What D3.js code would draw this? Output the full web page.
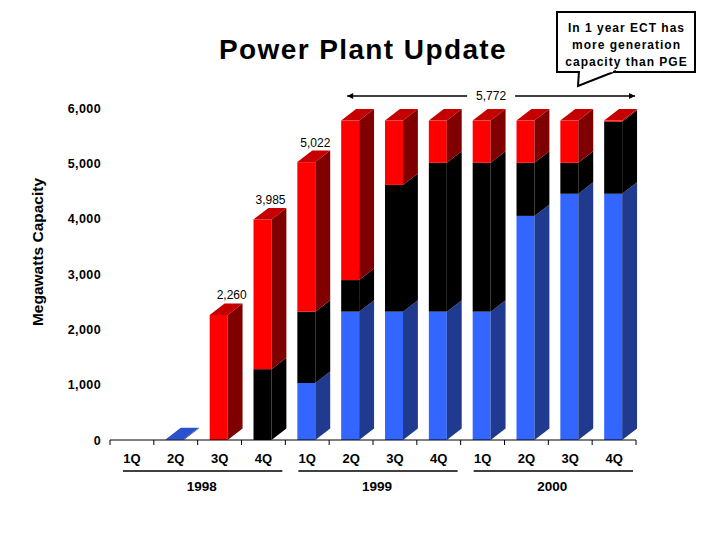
<!DOCTYPE html>
<html><head><meta charset="utf-8">
<script src="https://cdn.jsdelivr.net/npm/d3@7"></script>
<style>html,body{margin:0;padding:0;background:#fff;}svg{display:block;font-family:"Liberation Sans",Arial,sans-serif;}</style>
</head><body>
<svg id="chart" width="720" height="540"></svg>
<script>
// ---- data ----
const quarters = ["1Q","2Q","3Q","4Q","1Q","2Q","3Q","4Q","1Q","2Q","3Q","4Q"];
const years = ["1998","1999","2000"];
const seriesNames = ["Blue","Black","Red"];
const blueMW  = [0, 15, 0, 0, 1030, 2320, 2320, 2320, 2320, 4050, 4450, 4450];
const blackMW = [0, 0, 0, 1280, 1290, 570, 2290, 2690, 2690, 960, 560, 1300];
const redMW   = [0, 0, 2260, 2705, 2702, 2882, 1162, 762, 762, 762, 762, 22];
const yTicks = [0, 1000, 2000, 3000, 4000, 5000, 6000];
const totalLabels = [{i:2, v:2260}, {i:3, v:3985}, {i:4, v:5022}];
const spanLabel = {from:5, to:11, v:5772};
const calloutLines = ["In 1 year ECT has", "more generation", "capacity than PGE"];

const svg = d3.select("#chart");
const fmt = d3.format(",");

const x = d3.scaleBand().domain(d3.range(quarters.length)).range([110, 636]).padding(0);
const y = d3.scaleLinear().domain([0, 6000]).range([440, 108]);
const step = x.step();
const off = step * 0.274, bw = step * 0.41, dx = step * 0.34, dy = 11.5;

const colors = {
  Blue:  {front:"#3366ff", side:"#1f3a8f", top:"#2a52cc"},
  Black: {front:"#000000", side:"#000000", top:"#111111"},
  Red:   {front:"#ff0000", side:"#800000", top:"#c40000"}
};

// title
svg.append("text").attr("x", 363).attr("y", 59).attr("text-anchor","middle")
  .attr("font-size", 28).attr("font-weight","bold").attr("letter-spacing", 1.4).text("Power Plant Update");

// y axis title
svg.append("text").attr("transform","translate(43,252) rotate(-90)")
  .attr("text-anchor","middle").attr("font-size", 15.5).attr("font-weight","bold").text("Megawatts Capacity");

// y axis (labels only)
const yAx = svg.append("g").attr("transform","translate(110,0)")
  .call(d3.axisLeft(y).tickValues(yTicks).tickSize(0).tickPadding(9).tickFormat(fmt));
yAx.select(".domain").remove();
yAx.selectAll("text").attr("font-size", 12.5).attr("font-weight","bold").attr("letter-spacing", 0.4)
  .attr("font-family",'"Liberation Sans",Arial,sans-serif').attr("fill","#000");

// bars
const stacks = d3.range(quarters.length).map(i => {
  const vals = [blueMW[i], blackMW[i], redMW[i]];
  let base = 0;
  return vals.map((v, k) => { const s = {i, name: seriesNames[k], y0: base, y1: base + v}; base += v; return s; })
             .filter(s => s.y1 > s.y0);
});
const barG = svg.append("g");
stacks.forEach(segs => {
  segs.forEach((s, k) => {
    const x0 = x(s.i) + off, x1 = x0 + bw;
    const yt = y(s.y1), yb = y(s.y0);
    const c = colors[s.name];
    barG.append("rect").attr("x", x0).attr("y", yt).attr("width", bw).attr("height", Math.max(0, yb - yt)).attr("fill", c.front);
    barG.append("path").attr("d", `M${x1},${yt}L${x1+dx},${yt-dy}L${x1+dx},${yb-dy}L${x1},${yb}Z`).attr("fill", c.side);
    if (k === segs.length - 1) {
      barG.append("path").attr("d", `M${x0},${yt}L${x0+dx},${yt-dy}L${x1+dx},${yt-dy}L${x1},${yt}Z`).attr("fill", c.top);
    }
  });
});

// x axis
const axY = 440;
svg.append("line").attr("x1", x.range()[0]).attr("x2", x.range()[1]).attr("y1", axY).attr("y2", axY)
  .attr("stroke","#000").attr("stroke-width",1);
svg.append("g").selectAll("line").data(d3.range(quarters.length + 1)).join("line")
  .attr("x1", d => x.range()[0] + d * step).attr("x2", d => x.range()[0] + d * step)
  .attr("y1", axY).attr("y2", axY + 5).attr("stroke","#000");
const xAx = svg.append("g").attr("transform",`translate(0,${axY})`)
  .call(d3.axisBottom(x).tickSize(0).tickPadding(14).tickFormat(i => quarters[i]));
xAx.select(".domain").remove();
xAx.selectAll("text").attr("font-size", 13).attr("font-weight","bold")
  .attr("font-family",'"Liberation Sans",Arial,sans-serif').attr("fill","#000");

// year groups
years.forEach((yr, g) => {
  const a = x(g * 4), b = x(g * 4 + 3) + step;
  svg.append("line").attr("x1", a + 13).attr("x2", b - 3).attr("y1", 471).attr("y2", 471)
    .attr("stroke","#000").attr("stroke-width",1.3);
  svg.append("text").attr("x", (a + b) / 2 + 4).attr("y", 491).attr("text-anchor","middle")
    .attr("font-size", 13.5).attr("font-weight","bold").text(yr);
});

// total labels (small per-label horizontal nudges to match the original placement)
const labelNudge = [5, 0, 1];
totalLabels.forEach((d, k) => {
  svg.append("text").attr("x", x(d.i) + off + 17 + labelNudge[k]).attr("y", y(d.v) - dy - 4)
    .attr("text-anchor","middle").attr("font-size", 12).text(fmt(d.v));
});

// span arrow
const ax1 = x(spanLabel.from) + off + 6, ax2 = x(spanLabel.to) + off + bw + dx - 2, ay = 96;
const amid = (ax1 + ax2) / 2;
svg.append("defs").html('<marker id="ah" viewBox="0 0 10 10" refX="10" refY="5" markerWidth="9" markerHeight="6" orient="auto-start-reverse" markerUnits="userSpaceOnUse"><path d="M0,0L10,5L0,10Z" fill="#000"/></marker>');
svg.append("line").attr("x1", ax1).attr("x2", amid - 24).attr("y1", ay).attr("y2", ay)
  .attr("stroke","#000").attr("stroke-width",1.5).attr("marker-start","url(#ah)");
svg.append("line").attr("x1", amid + 24).attr("x2", ax2).attr("y1", ay).attr("y2", ay)
  .attr("stroke","#000").attr("stroke-width",1.5).attr("marker-end","url(#ah)");
svg.append("text").attr("x", amid).attr("y", ay + 4).attr("text-anchor","middle")
  .attr("font-size", 12).text(fmt(spanLabel.v));

// callout
const cg = svg.append("g");
cg.append("rect").attr("x", 557).attr("y", 12).attr("width", 138).attr("height", 60)
  .attr("fill","#fff").attr("stroke","#000").attr("stroke-width",2);
cg.append("path").attr("d","M579,71L578,86L616,71").attr("fill","#fff").attr("stroke","#000").attr("stroke-width",2).attr("stroke-linejoin","miter");
cg.append("line").attr("x1",580).attr("x2",613).attr("y1",71).attr("y2",71).attr("stroke","#fff").attr("stroke-width",2.5);
calloutLines.forEach((t, k) => {
  cg.append("text").attr("x", 626.5).attr("y", 32 + k * 17).attr("text-anchor","middle")
    .attr("font-size", 12).attr("font-weight","bold").attr("letter-spacing", 1).text(t);
});
</script>
</body></html>
